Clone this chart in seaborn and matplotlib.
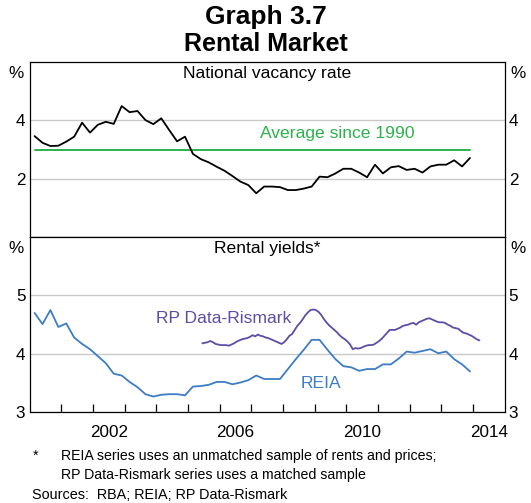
import matplotlib
matplotlib.use('Agg')
import matplotlib.pyplot as plt
import seaborn as sns
import pandas as pd

# national vacancy rate, quarterly from 2000 Q1 to 2013 Q4 (%)
vacancy = [3.46, 3.23, 3.12, 3.13, 3.27, 3.44, 3.92, 3.58, 3.85, 3.95, 3.88, 4.49,
           4.28, 4.32, 4.01, 3.87, 4.07, 3.67, 3.28, 3.44, 2.85, 2.67, 2.56, 2.41,
           2.27, 2.09, 1.90, 1.78, 1.50, 1.73, 1.73, 1.71, 1.61, 1.61, 1.66, 1.73,
           2.07, 2.05, 2.18, 2.34, 2.34, 2.21, 2.05, 2.48, 2.18, 2.39, 2.43, 2.30,
           2.34, 2.21, 2.42, 2.48, 2.48, 2.63, 2.42, 2.71]
vacancy_avg = 2.97

# REIA rental yield, quarterly from 2000 Q1 to 2013 Q4 (%)
reia = [4.70, 4.51, 4.75, 4.46, 4.52, 4.28, 4.17, 4.08, 3.96, 3.84, 3.66, 3.63,
        3.52, 3.43, 3.31, 3.27, 3.30, 3.31, 3.31, 3.29, 3.44, 3.45, 3.47, 3.52,
        3.52, 3.48, 3.51, 3.55, 3.63, 3.57, 3.57, 3.57, 3.74, 3.91, 4.07, 4.24,
        4.24, 4.07, 3.91, 3.79, 3.77, 3.71, 3.74, 3.74, 3.82, 3.82, 3.92, 4.04,
        4.02, 4.05, 4.08, 4.01, 4.04, 3.91, 3.82, 3.70]

# RP Data-Rismark rental yield, monthly from Jun 2005 to Mar 2014 (%)
rismark = [4.18, 4.19, 4.20, 4.22, 4.20, 4.17, 4.16, 4.15, 4.15, 4.15, 4.14, 4.16,
           4.18, 4.21, 4.23, 4.25, 4.26, 4.27, 4.29, 4.32, 4.30, 4.33, 4.31, 4.30,
           4.28, 4.27, 4.25, 4.23, 4.21, 4.19, 4.17, 4.20, 4.25, 4.31, 4.34, 4.41,
           4.48, 4.53, 4.59, 4.66, 4.71, 4.75, 4.76, 4.75, 4.72, 4.67, 4.60, 4.54,
           4.49, 4.45, 4.41, 4.37, 4.32, 4.28, 4.25, 4.21, 4.16, 4.08, 4.10, 4.09,
           4.10, 4.12, 4.14, 4.15, 4.15, 4.16, 4.19, 4.22, 4.26, 4.31, 4.36, 4.41,
           4.41, 4.41, 4.43, 4.45, 4.48, 4.49, 4.50, 4.52, 4.53, 4.50, 4.54, 4.56,
           4.58, 4.60, 4.61, 4.59, 4.57, 4.55, 4.54, 4.54, 4.53, 4.50, 4.48, 4.45,
           4.44, 4.43, 4.39, 4.36, 4.35, 4.33, 4.31, 4.28, 4.25, 4.23]

year_labels = ['2002', '2006', '2010', '2014']

BLACK = '#000000'
GREEN = '#2bb24c'
BLUE = '#3c7dc4'
PURPLE = '#5a4ea6'
GRID = '#c9c9c9'


def quarterly(values, start):
    q = pd.period_range(start, periods=len(values), freq='Q')
    # plotted at the end of the middle month of each quarter
    t = q.year + (q.quarter - 1) / 4 + 0.16
    return pd.DataFrame({'t': t, 'v': values})


def monthly(values, start):
    m = pd.period_range(start, periods=len(values), freq='M')
    t = m.year + (m.month - 0.5) / 12
    return pd.DataFrame({'t': t, 'v': values})


vac_df = quarterly(vacancy, '2000Q1')
reia_df = quarterly(reia, '2000Q1')
rism_df = monthly(rismark, '2005-06')
avg_df = pd.DataFrame({'t': [vac_df.t.iloc[0], vac_df.t.iloc[-1]],
                       'v': [vacancy_avg, vacancy_avg]})

sns.set_theme(style='white')
plt.rcParams['font.family'] = ['Liberation Sans', 'DejaVu Sans']
plt.rcParams.update({'text.color': 'black', 'xtick.color': 'black',
                     'ytick.color': 'black', 'axes.labelcolor': 'black'})

fig = plt.figure(figsize=(5.31, 5.03), dpi=100)
ax1 = fig.add_axes([0.0556, 0.5288, 0.8945, 0.3479])
ax2 = fig.add_axes([0.0556, 0.1803, 0.8945, 0.3485])

# top panel: vacancy rate
sns.lineplot(data=avg_df, x='t', y='v', ax=ax1, color=GREEN, lw=1.4)
sns.lineplot(data=vac_df, x='t', y='v', ax=ax1, color=BLACK, lw=1.3)
ax1.set_ylim(0, 6)
ax1.set_yticks([2, 4])
ax1.set_xticks([])
ax1.text(2007.28, 3.56, 'Average since 1990', color=GREEN, fontsize=12.6,
         ha='left', va='center')
ax1.text(0.5, 0.975, 'National vacancy rate', transform=ax1.transAxes,
         ha='center', va='top', fontsize=12.6)

# bottom panel: rental yields
sns.lineplot(data=reia_df, x='t', y='v', ax=ax2, color=BLUE, lw=1.3)
sns.lineplot(data=rism_df, x='t', y='v', ax=ax2, color=PURPLE, lw=1.3)
ax2.set_ylim(3, 6)
ax2.set_yticks([3, 4, 5])
ax2.text(2006.12, 4.61, 'RP Data-Rismark', color=PURPLE, fontsize=12.6,
         ha='center', va='center')
ax2.text(2009.2, 3.5, 'REIA', color=BLUE, fontsize=12.6, ha='center', va='center')
ax2.text(0.5, 0.975, 'Rental yields*', transform=ax2.transAxes,
         ha='center', va='top', fontsize=12.6)

# year ticks inside, labels centred on each year
ax2.set_xticks(range(2001, 2015))
ax2.set_xticklabels([])
ax2.set_xticks([int(y) + 0.5 for y in year_labels], minor=True)
ax2.set_xticklabels(year_labels, minor=True, fontsize=12.3)
ax2.tick_params(axis='x', which='major', direction='in', length=6,
                width=0.9, color=BLACK, bottom=True)
ax2.tick_params(axis='x', which='minor', length=0, pad=9)

for ax in (ax1, ax2):
    ax.set_xlim(2000, 2015)
    ax.set_xlabel('')
    ax.set_ylabel('')
    ax.yaxis.grid(True, color=GRID, lw=1)
    ax.set_axisbelow(True)
    ax.tick_params(axis='y', length=0, labelsize=12.3, pad=3,
                   labelleft=True, labelright=True)
    for s in ax.spines.values():
        s.set_color(BLACK)
        s.set_linewidth(0.9)
        s.set_visible(True)
    ax.text(-0.012, 0.975, '%', transform=ax.transAxes, ha='right', va='top', fontsize=12.3)
    ax.text(1.012, 0.975, '%', transform=ax.transAxes, ha='left', va='top', fontsize=12.3)

fig.text(0.5, 0.966, 'Graph 3.7', ha='center', va='center', fontsize=19, fontweight='bold')
fig.text(0.5, 0.912, 'Rental Market', ha='center', va='center', fontsize=18,
         fontweight='bold')

fig.text(0.062, 0.094, '*', ha='left', va='center', fontsize=10.2)
fig.text(0.115, 0.093, 'REIA series uses an unmatched sample of rents and prices;',
         ha='left', va='center', fontsize=10.2)
fig.text(0.115, 0.055, 'RP Data-Rismark series uses a matched sample',
         ha='left', va='center', fontsize=10.2)
fig.text(0.060, 0.015, 'Sources:  RBA; REIA; RP Data-Rismark',
         ha='left', va='center', fontsize=10.4)

fig.savefig('out.png', dpi=100)
